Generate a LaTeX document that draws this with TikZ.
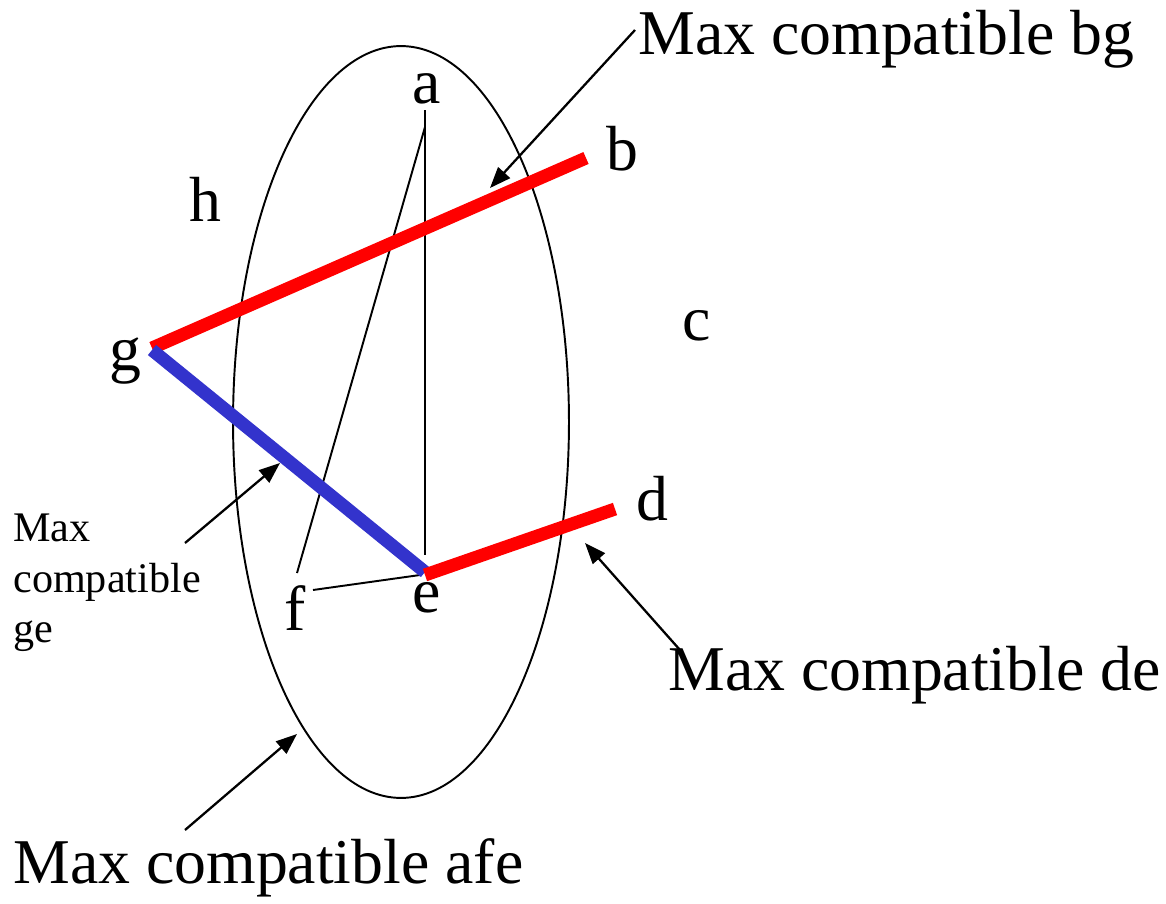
\documentclass[tikz,border=0pt]{standalone}
\usepackage{fontspec}
\setmainfont{Liberation Serif}
\usetikzlibrary{arrows.meta,positioning,calc,shapes.geometric}
\definecolor{compatred}{HTML}{FF0000}
\definecolor{compatblue}{HTML}{3333CC}
\tikzset{
  vlabel/.style={font=\fontsize{36.3}{40}\selectfont, inner sep=0pt},
  biglabel/.style={font=\fontsize{36.3}{40}\selectfont, inner sep=0pt, anchor=base west},
  smalllabel/.style={font=\fontsize{24}{28.5}\selectfont, inner sep=0pt, align=left, anchor=north west},
  edge/.style={line width=1.1pt, draw=black},
  redpair/.style={line width=7.4pt, draw=compatred},
  bluepair/.style={line width=7.4pt, draw=compatblue},
  pointer/.style={-{Triangle[length=4.2mm, width=3.2mm]}, line width=1.3pt, draw=black}
}

\begin{document}
\begin{tikzpicture}[x=0.02cm, y=-0.02cm]
\useasboundingbox (0,0) rectangle (1166,903);

% Compatibility class ellipse
\node[draw, line width=1.1pt, ellipse, minimum width=6.72cm, minimum height=15.04cm, inner sep=0pt] (afe) at (401,422) {};

% Vertex labels
\node[vlabel] (a) at (427,89) {a};
\node[vlabel] (b) at (622,149) {b};
\node[vlabel] (c) at (697,326) {c};
\node[vlabel] (d) at (652,499) {d};
\node[vlabel] (e) at (427,598) {e};
\node[vlabel] (f) at (295,608) {f};
\node[vlabel] (g) at (125,361) {g};
\node[vlabel] (h) at (205,199) {h};

% Line end points
\coordinate (atop) at (425,110);
\coordinate (aslant) at (425,127);
\coordinate (ebot) at (425,555);
\coordinate (fup) at (297,573);
\coordinate (fright) at (313,590);
\coordinate (eleft) at (420,575);
\coordinate (gend) at (152,348);
\coordinate (bend) at (586,158);
\coordinate (gblue) at (152,350);
\coordinate (eblue) at (425,572);
\coordinate (ered) at (425,575);
\coordinate (dend) at (615,509);

% Compatibility edges
\draw[edge] (atop) -- (ebot);
\draw[edge] (aslant) -- (fup);
\draw[edge] (fright) -- (eleft);

% Maximal compatibles
\draw[redpair] (gend) -- (bend);
\draw[bluepair] (gblue) -- (eblue);
\draw[redpair] (ered) -- (dend);

% Annotations
\node[biglabel] (mbg) at (638,54) {Max compatible bg};
\node[biglabel] (mde) at (668,690) {Max compatible de};
\node[biglabel] (mafe) at (13,883) {Max compatible afe};
\node[smalllabel] (mge) at (13,514) {Max\\compatible\\ge};

\coordinate (bgtail) at (635,30);
\coordinate (bgtip) at (490,188);
\coordinate (detail) at (680,650);
\coordinate (detip) at (585,543);
\coordinate (getail) at (185,543);
\coordinate (getip) at (280,463);
\coordinate (afetail) at (185,830);
\coordinate (afetip) at (297,734);

\draw[pointer] (bgtail) -- (bgtip);
\draw[pointer] (detail) -- (detip);
\draw[pointer] (getail) -- (getip);
\draw[pointer] (afetail) -- (afetip);

\end{tikzpicture}
\end{document}
